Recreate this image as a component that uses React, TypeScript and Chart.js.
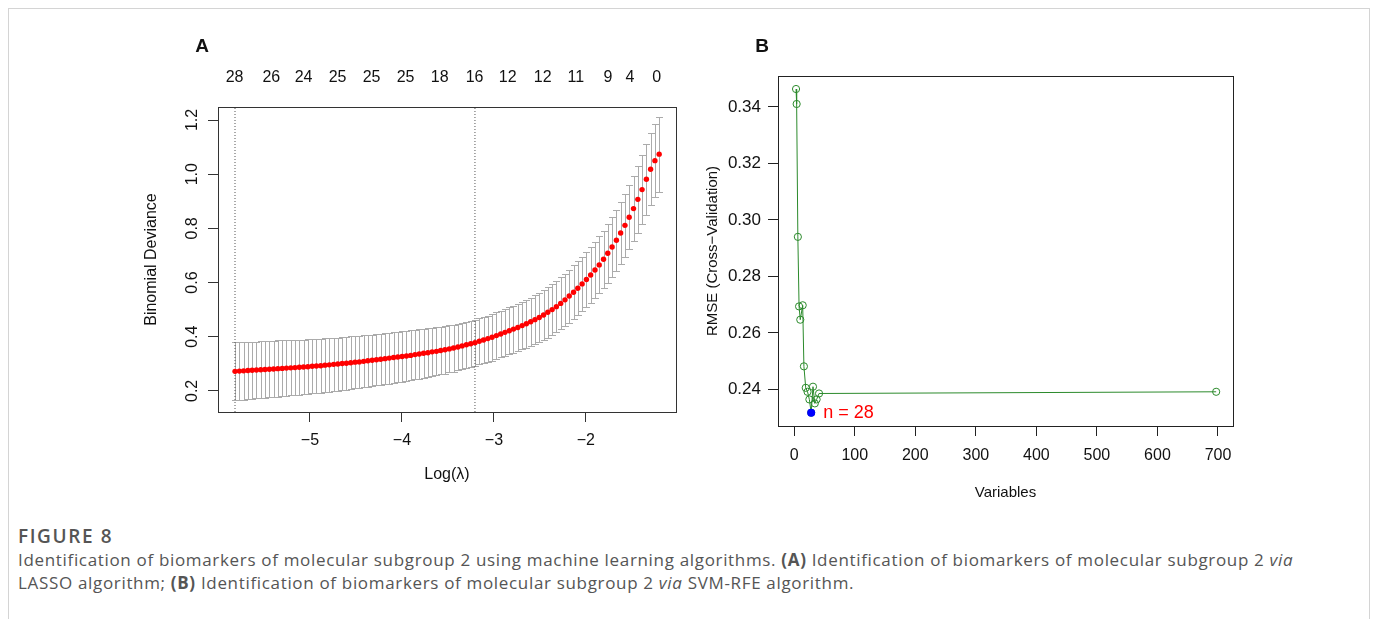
import React, { useEffect, useRef } from 'react';
import { Chart, registerables } from 'chart.js';

Chart.register(...registerables);

// ---------- Panel A: LASSO cross-validation ----------
const logLambda = [
  -5.815, -5.768, -5.722, -5.675, -5.629, -5.582, -5.535, -5.489, -5.442, -5.396,
  -5.349, -5.302, -5.256, -5.209, -5.163, -5.116, -5.070, -5.023, -4.976, -4.930,
  -4.883, -4.837, -4.790, -4.743, -4.697, -4.650, -4.604, -4.557, -4.510, -4.464,
  -4.417, -4.371, -4.324, -4.277, -4.231, -4.184, -4.138, -4.091, -4.045, -3.998,
  -3.951, -3.905, -3.858, -3.812, -3.765, -3.718, -3.672, -3.625, -3.579, -3.532,
  -3.485, -3.439, -3.392, -3.346, -3.299, -3.252, -3.206, -3.159, -3.113, -3.066,
  -3.020, -2.973, -2.926, -2.880, -2.833, -2.787, -2.740, -2.693, -2.647, -2.600,
  -2.554, -2.507, -2.460, -2.414, -2.367, -2.321, -2.274, -2.227, -2.181, -2.134,
  -2.088, -2.041, -1.994, -1.948, -1.901, -1.855, -1.808, -1.762, -1.715, -1.668,
  -1.622, -1.575, -1.529, -1.482, -1.435, -1.389, -1.342, -1.296, -1.249, -1.203,
];

const meanDeviance = [
  0.272, 0.273, 0.274, 0.275, 0.276, 0.277, 0.278, 0.279, 0.280, 0.281,
  0.282, 0.283, 0.284, 0.285, 0.286, 0.287, 0.288, 0.289, 0.291, 0.292,
  0.293, 0.295, 0.296, 0.298, 0.299, 0.301, 0.302, 0.304, 0.306, 0.307,
  0.309, 0.311, 0.313, 0.315, 0.317, 0.319, 0.321, 0.323, 0.325, 0.327,
  0.329, 0.331, 0.334, 0.336, 0.339, 0.341, 0.344, 0.346, 0.349, 0.352,
  0.355, 0.358, 0.362, 0.366, 0.370, 0.374, 0.378, 0.383, 0.388, 0.393,
  0.398, 0.404, 0.410, 0.416, 0.422, 0.428, 0.434, 0.441, 0.448, 0.455,
  0.463, 0.471, 0.480, 0.490, 0.500, 0.511, 0.523, 0.536, 0.550, 0.564,
  0.579, 0.595, 0.611, 0.628, 0.646, 0.665, 0.686, 0.708, 0.731, 0.756,
  0.783, 0.811, 0.841, 0.873, 0.907, 0.943, 0.981, 1.018, 1.050, 1.074,
];

const seDeviance = [
  0.107, 0.107, 0.106, 0.106, 0.106, 0.105, 0.105, 0.105, 0.104, 0.104,
  0.104, 0.103, 0.103, 0.102, 0.102, 0.102, 0.101, 0.101, 0.100, 0.100,
  0.100, 0.099, 0.099, 0.099, 0.098, 0.098, 0.097, 0.097, 0.097, 0.096,
  0.096, 0.095, 0.095, 0.095, 0.094, 0.094, 0.094, 0.093, 0.093, 0.093,
  0.092, 0.092, 0.091, 0.091, 0.090, 0.090, 0.089, 0.089, 0.088, 0.088,
  0.087, 0.087, 0.086, 0.086, 0.086, 0.085, 0.085, 0.085, 0.085, 0.085,
  0.086, 0.086, 0.086, 0.087, 0.087, 0.087, 0.088, 0.088, 0.089, 0.089,
  0.090, 0.091, 0.092, 0.093, 0.094, 0.095, 0.096, 0.097, 0.098, 0.099,
  0.100, 0.101, 0.102, 0.103, 0.104, 0.105, 0.106, 0.108, 0.110, 0.112,
  0.114, 0.116, 0.118, 0.121, 0.124, 0.127, 0.130, 0.133, 0.136, 0.138,
];

const lambdaMin = -5.815;
const lambda1se = -3.206;

const nzeroPositions = [-5.82, -5.42, -5.07, -4.70, -4.33, -3.96, -3.59, -3.21, -2.85, -2.47, -2.11, -1.76, -1.52, -1.23];
const nzeroLabels = ['28', '26', '24', '25', '25', '25', '18', '16', '12', '12', '11', '9', '4', '0'];
const xTicksA = [-5, -4, -3, -2];
const yTicksA = [0.2, 0.4, 0.6, 0.8, 1.0, 1.2];
const xRangeA = [-6.0, -1.02];
const yRangeA = [0.122, 1.248];

// ---------- Panel B: SVM-RFE ----------
const variableCounts = [3, 4, 6, 8, 10, 14, 16, 19, 22, 25, 28, 31, 34, 37, 41, 697];
const rmseValues = [0.3463, 0.3410, 0.2940, 0.2694, 0.2647, 0.2698, 0.2482, 0.2406, 0.2392, 0.2365, 0.2318, 0.2410, 0.2351, 0.2365, 0.2386, 0.2392];
const bestCount = 28;
const bestRmse = 0.2318;
const xTicksB = [0, 100, 200, 300, 400, 500, 600, 700];
const yTicksB = [0.24, 0.26, 0.28, 0.30, 0.32, 0.34];
const xRangeB = [-26.8, 724.8];
const yRangeB = [0.2271, 0.3509];

const FONT = "'Liberation Sans', Arial, Helvetica, sans-serif";
const minus = (v: number) => (v < 0 ? '\u2212' + Math.abs(v) : String(v));

function PanelA() {
  const ref = useRef<HTMLCanvasElement>(null);
  useEffect(() => {
    if (!ref.current) return;
    const errorBars = {
      id: 'errorBarsA',
      beforeDatasetsDraw(chart: any) {
        const { ctx, scales } = chart;
        const x = scales.x, y = scales.y;
        ctx.save();
        ctx.strokeStyle = '#ababab';
        ctx.lineWidth = 1;
        ctx.beginPath();
        logLambda.forEach((l, i) => {
          const px = Math.round(x.getPixelForValue(l)) + 0.5;
          const top = Math.round(y.getPixelForValue(meanDeviance[i] + seDeviance[i])) + 0.5;
          const bot = Math.round(y.getPixelForValue(meanDeviance[i] - seDeviance[i])) + 0.5;
          ctx.moveTo(px, top); ctx.lineTo(px, bot);
          ctx.moveTo(px - 3.5, top); ctx.lineTo(px + 3.5, top);
          ctx.moveTo(px - 3.5, bot); ctx.lineTo(px + 3.5, bot);
        });
        ctx.stroke();
        ctx.restore();
      },
    };
    const decorations = {
      id: 'decorA',
      afterDraw(chart: any) {
        const { ctx, chartArea: a, scales } = chart;
        ctx.save();
        ctx.strokeStyle = '#333';
        ctx.lineWidth = 1;
        ctx.strokeRect(Math.round(a.left) + 0.5, Math.round(a.top) + 0.5, Math.round(a.right - a.left), Math.round(a.bottom - a.top));
        ctx.fillStyle = '#111';
        ctx.font = `16px ${FONT}`;
        ctx.textAlign = 'center';
        ctx.textBaseline = 'middle';
        const y = scales.y;
        y.ticks.forEach((t: any) => {
          const py = y.getPixelForValue(t.value);
          ctx.save();
          ctx.translate(a.left - 25, py);
          ctx.rotate(-Math.PI / 2);
          ctx.fillText(t.value.toFixed(1), 0, 0);
          ctx.restore();
        });
        ctx.save();
        ctx.translate(a.left - 66, (a.top + a.bottom) / 2);
        ctx.rotate(-Math.PI / 2);
        ctx.fillText('Binomial Deviance', 0, 0);
        ctx.restore();
        ctx.fillText('Log(\u03bb)', (a.left + a.right) / 2, a.bottom + 63);
        ctx.font = `bold 19px ${FONT}`;
        ctx.fillText('A', 72, 17);
        ctx.restore();
      },
    };
    const chart = new Chart(ref.current, {
      type: 'scatter',
      data: {
        datasets: [
          {
            data: logLambda.map((l, i) => ({ x: l, y: meanDeviance[i] })),
            backgroundColor: '#ff0000',
            borderWidth: 0,
            pointRadius: 2.7,
            xAxisID: 'x',
            yAxisID: 'y',
          },
          {
            data: [{ x: lambdaMin, y: yRangeA[0] }, { x: lambdaMin, y: yRangeA[1] }],
            showLine: true,
            borderColor: '#555',
            borderWidth: 1,
            borderDash: [1, 2],
            pointRadius: 0,
            xAxisID: 'x',
            yAxisID: 'y',
          },
          {
            data: [{ x: lambda1se, y: yRangeA[0] }, { x: lambda1se, y: yRangeA[1] }],
            showLine: true,
            borderColor: '#555',
            borderWidth: 1,
            borderDash: [1, 2],
            pointRadius: 0,
            xAxisID: 'x',
            yAxisID: 'y',
          },
        ],
      },
      options: {
        animation: false,
        responsive: false,
        events: [],
        layout: { padding: { left: 0, right: 14, top: 0, bottom: 0 } },
        plugins: { legend: { display: false }, tooltip: { enabled: false } },
        scales: {
          x: {
            type: 'linear',
            position: 'bottom',
            min: xRangeA[0],
            max: xRangeA[1],
            afterBuildTicks: (s: any) => { s.ticks = xTicksA.map((v) => ({ value: v })); },
            afterFit: (s: any) => { s.height = 98; },
            grid: { display: true, drawOnChartArea: false, drawTicks: true, tickLength: 10, color: '#333' },
            border: { display: false },
            ticks: { color: '#111', font: { size: 16, family: FONT }, padding: 9, maxRotation: 0, autoSkip: false, callback: (v: any) => minus(Number(v)) },
          },
          xTop: {
            type: 'linear',
            position: 'top',
            min: xRangeA[0],
            max: xRangeA[1],
            afterBuildTicks: (s: any) => { s.ticks = nzeroPositions.map((v) => ({ value: v })); },
            afterFit: (s: any) => { s.height = 77; },
            grid: { display: false, drawTicks: false },
            border: { display: false },
            ticks: { color: '#111', font: { size: 16, family: FONT }, padding: 20, maxRotation: 0, autoSkip: false, callback: (_v: any, i: number) => nzeroLabels[i] },
          },
          y: {
            type: 'linear',
            min: yRangeA[0],
            max: yRangeA[1],
            afterBuildTicks: (s: any) => { s.ticks = yTicksA.map((v) => ({ value: v })); },
            afterFit: (s: any) => { s.width = 88; },
            grid: { display: true, drawOnChartArea: false, drawTicks: true, tickLength: 10, color: '#333' },
            border: { display: false },
            ticks: { display: false },
          },
        },
      } as any,
      plugins: [errorBars, decorations],
    });
    return () => chart.destroy();
  }, []);
  return <canvas ref={ref} width={560} height={480} style={{ position: 'absolute', left: 130, top: 30 }} />;
}

function PanelB() {
  const ref = useRef<HTMLCanvasElement>(null);
  useEffect(() => {
    if (!ref.current) return;
    const decorations = {
      id: 'decorB',
      afterDraw(chart: any) {
        const { ctx, chartArea: a, scales } = chart;
        ctx.save();
        ctx.strokeStyle = '#222';
        ctx.lineWidth = 1;
        ctx.strokeRect(Math.round(a.left) + 0.5, Math.round(a.top) + 0.5, Math.round(a.right - a.left), Math.round(a.bottom - a.top));
        ctx.fillStyle = '#111';
        ctx.font = `15px ${FONT}`;
        ctx.textAlign = 'center';
        ctx.textBaseline = 'middle';
        ctx.save();
        ctx.translate(a.left - 65, (a.top + a.bottom) / 2);
        ctx.rotate(-Math.PI / 2);
        ctx.fillText('RMSE (Cross\u2212Validation)', 0, 0);
        ctx.restore();
        ctx.fillText('Variables', (a.left + a.right) / 2, a.bottom + 67);
        ctx.font = `bold 19px ${FONT}`;
        ctx.fillText('B', 72, 17);
        // label next to the best subset
        const px = scales.x.getPixelForValue(bestCount);
        const py = scales.y.getPixelForValue(bestRmse);
        ctx.fillStyle = '#ff0000';
        ctx.font = `18px ${FONT}`;
        ctx.textAlign = 'left';
        ctx.fillText('n = ' + bestCount, px + 12, py);
        ctx.restore();
      },
    };
    const chart = new Chart(ref.current, {
      type: 'scatter',
      data: {
        datasets: [
          {
            data: [{ x: bestCount, y: bestRmse }],
            backgroundColor: '#0000ff',
            borderWidth: 0,
            pointRadius: 4,
          },
          {
            data: variableCounts.map((v, i) => ({ x: v, y: rmseValues[i] })),
            showLine: true,
            borderColor: '#2b8a2b',
            borderWidth: 1,
            pointRadius: 3.6,
            pointBorderWidth: 1,
            pointBorderColor: '#2b8a2b',
            pointBackgroundColor: 'rgba(0,0,0,0)',
          },
        ],
      },
      options: {
        animation: false,
        responsive: false,
        events: [],
        layout: { padding: { left: 0, right: 17, top: 46, bottom: 0 } },
        plugins: { legend: { display: false }, tooltip: { enabled: false } },
        scales: {
          x: {
            type: 'linear',
            min: xRangeB[0],
            max: xRangeB[1],
            afterBuildTicks: (s: any) => { s.ticks = xTicksB.map((v) => ({ value: v })); },
            afterFit: (s: any) => { s.height = 84; },
            grid: { display: true, drawOnChartArea: false, drawTicks: true, tickLength: 10, color: '#222' },
            border: { display: false },
            ticks: { color: '#111', font: { size: 16, family: FONT }, padding: 10, maxRotation: 0, autoSkip: false },
          },
          y: {
            type: 'linear',
            min: yRangeB[0],
            max: yRangeB[1],
            afterBuildTicks: (s: any) => { s.ticks = yTicksB.map((v) => ({ value: v })); },
            afterFit: (s: any) => { s.width = 88; },
            grid: { display: true, drawOnChartArea: false, drawTicks: true, tickLength: 10, color: '#222' },
            border: { display: false },
            ticks: { color: '#111', font: { size: 17, family: FONT }, padding: 7, callback: (v: any) => Number(v).toFixed(2) },
          },
        },
      } as any,
      plugins: [decorations],
    });
    return () => chart.destroy();
  }, []);
  return <canvas ref={ref} width={560} height={480} style={{ position: 'absolute', left: 690, top: 30 }} />;
}

export default function App() {
  const capFont = "'Open Sans', 'Noto Sans', sans-serif";
  return (
    <div style={{ position: 'absolute', left: 0, top: 0, width: 1377, height: 619, overflow: 'hidden', background: '#fff' }}>
      <div style={{ position: 'absolute', left: 8, top: 8, width: 1360, height: 640, border: '1px solid #d4d4d4', borderBottom: 'none' }} />
      <PanelA />
      <PanelB />
      <div style={{ position: 'absolute', left: 18, top: 524, color: '#555', fontFamily: capFont, whiteSpace: 'nowrap' }}>
        <div style={{ fontSize: 19, fontWeight: 600, lineHeight: '24px', letterSpacing: '1.6px' }}>FIGURE 8</div>
        <div style={{ fontSize: 17, lineHeight: '23px', letterSpacing: '0.67px' }}>
          Identification of biomarkers of molecular subgroup 2 using machine learning algorithms. <b style={{ fontWeight: 700 }}>(A)</b> Identification of biomarkers of molecular subgroup 2 <i>via</i>
          <br />
          LASSO algorithm; <b style={{ fontWeight: 700 }}>(B)</b> Identification of biomarkers of molecular subgroup 2 <i>via</i> SVM-RFE algorithm.
        </div>
      </div>
    </div>
  );
}
